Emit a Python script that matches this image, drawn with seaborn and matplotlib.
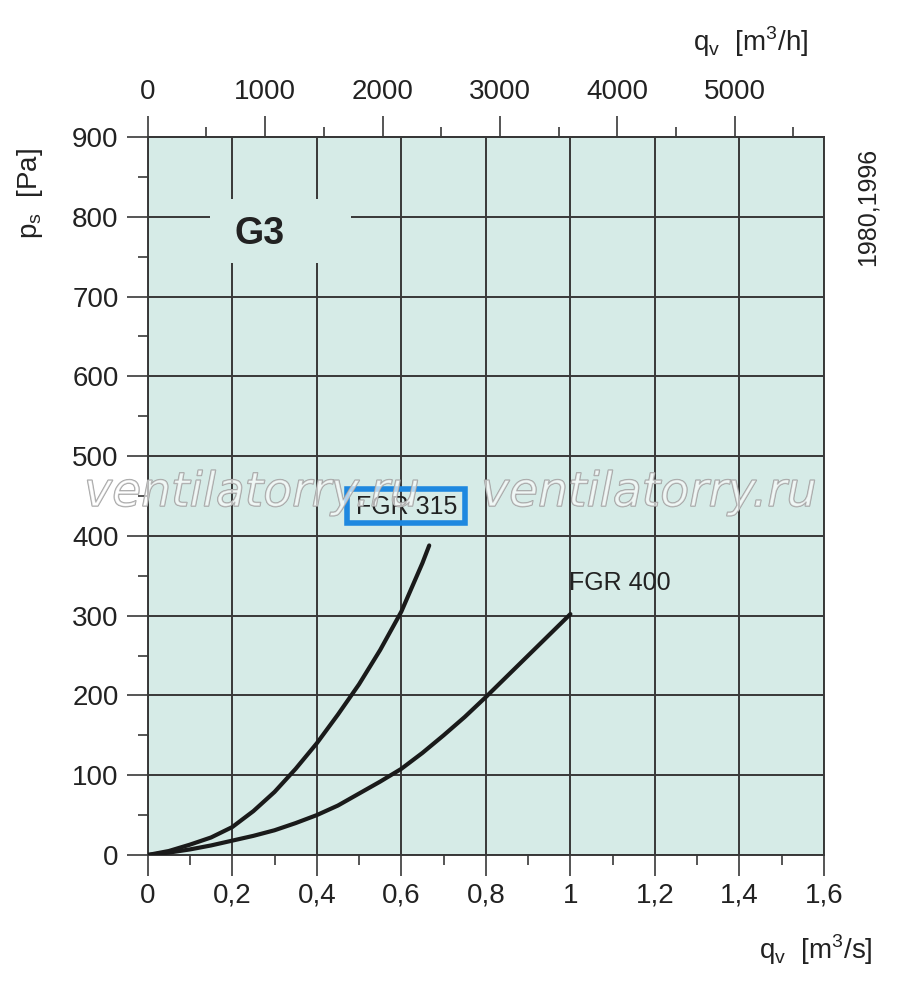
import numpy as np
import pandas as pd
import seaborn as sns
import matplotlib
matplotlib.use('Agg')
import matplotlib.pyplot as plt
import matplotlib.patheffects as pe
from matplotlib.patches import Rectangle
from matplotlib.ticker import MultipleLocator

sns.set_style('ticks')
plt.rcParams['font.family'] = ['Liberation Sans', 'DejaVu Sans']

# curves: q in m3/s, p_s in Pa
fgr315_q = [0.0, 0.05, 0.1, 0.15, 0.2, 0.25, 0.3, 0.35, 0.4, 0.45,
            0.5, 0.55, 0.6, 0.65, 0.666]
fgr315_p = [0, 5, 13, 22, 35, 55, 79, 108, 140, 176,
            214, 257, 305, 366, 388]
fgr400_q = [0.0, 0.05, 0.1, 0.15, 0.2, 0.25, 0.3, 0.35, 0.4, 0.45, 0.5, 0.55,
            0.6, 0.65, 0.7, 0.75, 0.8, 0.85, 0.9, 0.95, 1.0]
fgr400_p = [0, 3, 7, 12, 18, 24, 31, 40, 50, 62, 77, 92,
            108, 128, 150, 173, 198, 224, 250, 276, 302]

x_ticks = [0, 0.2, 0.4, 0.6, 0.8, 1.0, 1.2, 1.4, 1.6]
x_tick_labels = ['0', '0,2', '0,4', '0,6', '0,8', '1', '1,2', '1,4', '1,6']
y_ticks = [0, 100, 200, 300, 400, 500, 600, 700, 800, 900]
top_ticks = [0, 1000, 2000, 3000, 4000, 5000]

bg = '#d6ebe7'
ink = '#383838'
W, H = 900, 982

df = pd.concat([
    pd.DataFrame({'q': fgr315_q, 'p': fgr315_p, 'fan': 'FGR 315'}),
    pd.DataFrame({'q': fgr400_q, 'p': fgr400_p, 'fan': 'FGR 400'}),
])

fig = plt.figure(figsize=(W / 100, H / 100), dpi=100)
ax = fig.add_axes([147.7 / W, 1 - 855 / H, (824 - 147.7) / W, (855 - 137) / H])
ax.set_facecolor(bg)
ax.set_axisbelow(True)

sns.lineplot(data=df, x='q', y='p', hue='fan',
             palette={'FGR 315': '#1a1a1a', 'FGR 400': '#1a1a1a'},
             lw=3, legend=False, ax=ax, zorder=3)

ax.set_xlim(0, 1.6)
ax.set_ylim(0, 900)
ax.set_xticks(x_ticks, labels=x_tick_labels)
ax.set_yticks(y_ticks)
ax.xaxis.set_minor_locator(MultipleLocator(0.1))
ax.yaxis.set_minor_locator(MultipleLocator(50))
ax.set_xlabel('')
ax.set_ylabel('')
ax.grid(True, color=ink, lw=1.4)
for s in ax.spines.values():
    s.set_color(ink)
    s.set_linewidth(1.4)
ax.tick_params(which='major', length=15, width=1.2, color=ink, labelsize=20, labelcolor='#222')
ax.tick_params(which='minor', length=7.5, width=1.2, color=ink)
ax.tick_params(axis='x', which='major', pad=5)
ax.tick_params(axis='y', which='major', pad=6)

# top axis in m3/h
secax = ax.secondary_xaxis('top', functions=(lambda x: x * 3600, lambda x: x / 3600))
secax.set_xticks(top_ticks)
secax.xaxis.set_minor_locator(MultipleLocator(500))
secax.spines['top'].set_color(ink)
secax.spines['top'].set_linewidth(1.4)
secax.tick_params(which='major', length=15, width=1.2, color=ink, labelsize=20, labelcolor='#222', pad=8)
secax.tick_params(which='minor', length=7.5, width=1.2, color=ink)

# G3 label with gap in the grid
ax.add_patch(Rectangle((0.147, 742), 0.334, 80, facecolor=bg, edgecolor='none', zorder=1))
ax.text(0.265, 779, 'G3', fontsize=27, fontweight='bold', color='#222',
        ha='center', va='center', zorder=2)

# curve labels
ax.text(0.613, 436, 'FGR 315', fontsize=18, color='#222', ha='center', va='center', zorder=4)
ax.add_patch(Rectangle((0.4715, 416), 0.2785, 42.8, fill=False, edgecolor='#1e88e0',
                       lw=4, zorder=4))
ax.text(0.997, 341, 'FGR 400', fontsize=18, color='#222', ha='left', va='center', zorder=4)

# axis titles
fig.text(30 / W, 1 - 193 / H, r'p$_\mathregular{s}$  [Pa]', rotation=90, fontsize=20,
         color='#222', ha='center', va='center')
fig.text(873 / W, 1 - 950 / H, r'q$_\mathregular{v}$  [m$^\mathregular{3}$/s]', fontsize=20,
         color='#222', ha='right', va='center')
fig.text(808 / W, 1 - 42 / H, r'q$_\mathregular{v}$  [m$^\mathregular{3}$/h]', fontsize=20,
         color='#222', ha='right', va='center')
fig.text(868 / W, 1 - 207 / H, '1980,1996', rotation=90, fontsize=18,
         color='#222', ha='center', va='center')

# watermark
for xc in [252, 649]:
    fig.text(xc / W, 1 - 506 / H, 'ventilatorry.ru', fontsize=34, family='DejaVu Sans',
             style='italic', color=(1, 1, 1, 0.4), ha='center', va='baseline', zorder=10,
             path_effects=[pe.Stroke(linewidth=1.0, foreground='#a0a0a0'), pe.Normal()])

fig.savefig('out.png', dpi=100)
